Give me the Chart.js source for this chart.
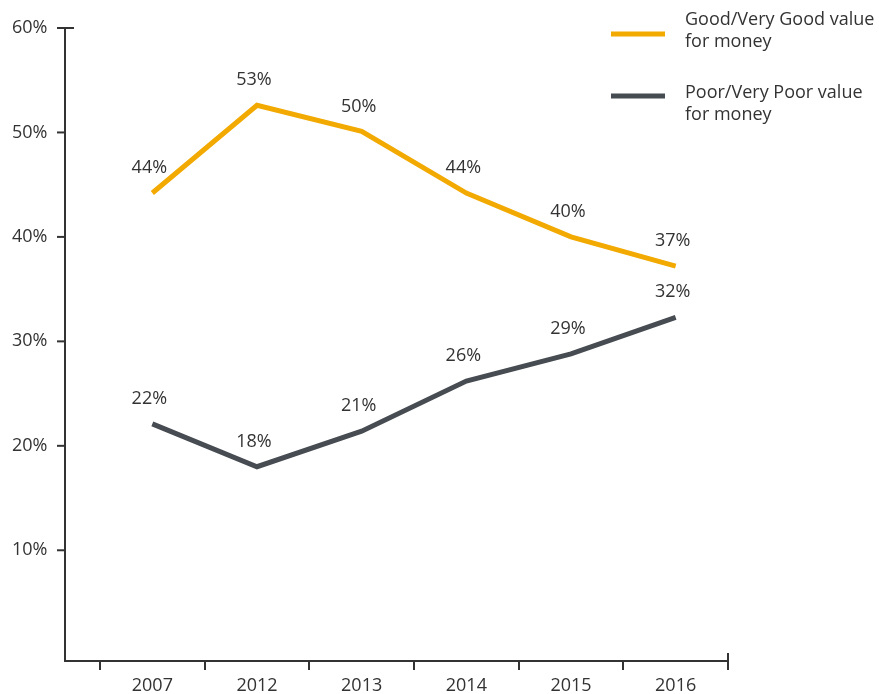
<!DOCTYPE html>
<html>
<head>
<meta charset="utf-8">
<script src="https://cdn.jsdelivr.net/npm/chart.js@4.4.0/dist/chart.umd.min.js"></script>
<style>
  html, body { margin: 0; padding: 0; background: #fff; }
  #wrap { width: 879px; height: 694px; position: relative; }
</style>
</head>
<body>
<div id="wrap"><canvas id="valueChart"></canvas></div>
<script>
// data
var years = ["2007", "2012", "2013", "2014", "2015", "2016"];
var goodValues = [44.2, 52.6, 50.1, 44.2, 40.0, 37.2];
var poorValues = [22.1, 18.0, 21.4, 26.2, 28.8, 32.3];
var goodLabel = ["Good/Very Good value", "for money"];
var poorLabel = ["Poor/Very Poor value", "for money"];
var yTicks = [10, 20, 30, 40, 50, 60];

var orange = "#f2a900";
var slate = "#474c52";
var ink = "#333333";
var fontFamily = "'Open Sans', sans-serif";
var fontSize = 18;

Chart.defaults.font.family = fontFamily;
Chart.defaults.font.size = fontSize;
Chart.defaults.color = ink;

// axis lines + tick marks drawn by hand, the y axis sits left of the plot
var axesPlugin = {
  id: "axesLines",
  afterDraw: function (chart) {
    var ctx = chart.ctx;
    var x = chart.scales.x, y = chart.scales.y;
    var axisX = 65, base = chart.chartArea.bottom;
    ctx.save();
    ctx.strokeStyle = ink;
    ctx.lineWidth = 2;
    ctx.beginPath();
    ctx.moveTo(axisX, y.getPixelForValue(60));
    ctx.lineTo(axisX, base);
    ctx.lineTo(x.right, base);
    ctx.stroke();
    yTicks.forEach(function (t) {
      var py = y.getPixelForValue(t);
      ctx.beginPath();
      ctx.moveTo(axisX - 8, py);
      ctx.lineTo(t === 60 ? axisX + 9 : axisX, py);
      ctx.stroke();
    });
    var n = years.length, w = x.width / n;
    for (var i = 0; i <= n; i++) {
      var px = Math.round(x.left + i * w);
      ctx.beginPath();
      ctx.moveTo(px, i === n ? base - 8 : base);
      ctx.lineTo(px, base + 9);
      ctx.stroke();
    }
    ctx.restore();
  }
};

// percent labels above each point
var labelPlugin = {
  id: "pointLabels",
  afterDatasetsDraw: function (chart) {
    var ctx = chart.ctx;
    ctx.save();
    ctx.font = fontSize + "px " + fontFamily;
    ctx.fillStyle = ink;
    ctx.textAlign = "center";
    ctx.textBaseline = "middle";
    chart.data.datasets.forEach(function (ds, di) {
      chart.getDatasetMeta(di).data.forEach(function (pt, i) {
        ctx.fillText(Math.round(ds.data[i]) + "%", pt.x - 3, pt.y - 25);
      });
    });
    ctx.restore();
  }
};

// legend on the top right, two-line labels
var legendPlugin = {
  id: "sideLegend",
  afterDraw: function (chart) {
    var ctx = chart.ctx;
    var rows = [{ y: 34, top: 20 }, { y: 96, top: 93 }];
    ctx.save();
    ctx.font = fontSize + "px " + fontFamily;
    ctx.textAlign = "left";
    ctx.textBaseline = "middle";
    chart.data.datasets.forEach(function (ds, di) {
      var r = rows[di];
      ctx.strokeStyle = ds.borderColor;
      ctx.lineWidth = 5;
      ctx.beginPath();
      ctx.moveTo(611, r.y);
      ctx.lineTo(665, r.y);
      ctx.stroke();
      ctx.fillStyle = ink;
      ds.label.forEach(function (line, li) {
        ctx.fillText(line, 685, r.top + li * 22);
      });
    });
    ctx.restore();
  }
};

new Chart("valueChart", {
  type: "line",
  data: {
    labels: years,
    datasets: [{
      label: goodLabel,
      data: goodValues,
      borderColor: orange,
      borderWidth: 5,
      pointRadius: 0,
      tension: 0
    }, {
      label: poorLabel,
      data: poorValues,
      borderColor: slate,
      borderWidth: 5,
      pointRadius: 0,
      tension: 0
    }]
  },
  options: {
    responsive: true,
    maintainAspectRatio: false,
    animation: false,
    layout: { padding: { top: 28, right: 151, left: 12, bottom: 0 } },
    plugins: {
      legend: { display: false },
      tooltip: { enabled: false }
    },
    scales: {
      x: {
        offset: true,
        grid: { display: false, drawTicks: false },
        border: { display: false },
        ticks: { padding: 14, color: ink, maxRotation: 0 },
        afterFit: function (s) { s.height = 33; }
      },
      y: {
        min: -0.6,
        max: 60,
        grid: { display: false, drawTicks: false },
        border: { display: false },
        ticks: {
          padding: 0,
          crossAlign: "far",
          color: ink,
          callback: function (v) { return v + "%"; }
        },
        afterBuildTicks: function (s) {
          s.ticks = yTicks.map(function (v) { return { value: v }; });
        },
        afterFit: function (s) { s.width = 88; }
      }
    }
  },
  plugins: [axesPlugin, labelPlugin, legendPlugin]
});
</script>
</body>
</html>
